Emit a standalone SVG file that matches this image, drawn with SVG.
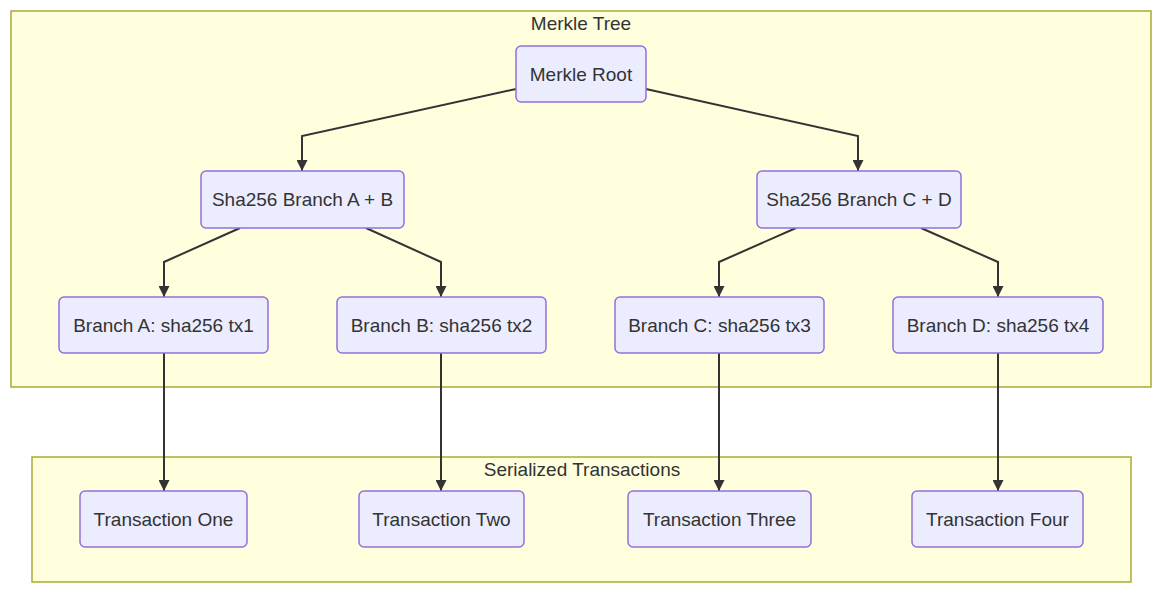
<svg xmlns="http://www.w3.org/2000/svg" width="1161" height="590" viewBox="0 0 1161 590">
<style>
.bg{fill:#ffffff}
.cluster{fill:#ffffde;stroke:#aaaa33;stroke-width:1.5}
.ctitle{font-family:"Liberation Sans",Arial,sans-serif;font-size:19px;fill:#333333;text-anchor:middle}
.node rect{fill:#ececff;stroke:#9370db;stroke-width:1.5}
.node text{font-family:"Liberation Sans",Arial,sans-serif;font-size:19px;fill:#333333;text-anchor:middle;dominant-baseline:central}
.edge{fill:none;stroke:#333333;stroke-width:2}
</style>
<defs>
<marker id="arrow" viewBox="0 0 10 10" refX="10" refY="5" markerWidth="11" markerHeight="11" markerUnits="userSpaceOnUse" orient="auto">
<path d="M0,0 L10,5 L0,10 z" fill="#333333"/>
</marker>
</defs>
<rect class="bg" x="0" y="0" width="1161" height="590"/>
<g id="cluster-merkle">
<rect class="cluster" x="11" y="11" width="1140" height="376"/>
<text class="ctitle" x="581" y="30">Merkle Tree</text>
</g>
<g id="cluster-serialized">
<rect class="cluster" x="32" y="457" width="1099" height="125"/>
<text class="ctitle" x="582" y="476">Serialized Transactions</text>
</g>
<g id="edges">
<path class="edge" d="M516,89 L302,136 L302,171" marker-end="url(#arrow)"/>
<path class="edge" d="M646,89 L858,136 L858,171" marker-end="url(#arrow)"/>
<path class="edge" d="M240,228 L164,262 L164,297" marker-end="url(#arrow)"/>
<path class="edge" d="M366,228 L441,262 L441,297" marker-end="url(#arrow)"/>
<path class="edge" d="M796,228 L719,262 L719,297" marker-end="url(#arrow)"/>
<path class="edge" d="M921,228 L998,262 L998,297" marker-end="url(#arrow)"/>
<path class="edge" d="M164,353 L164,491" marker-end="url(#arrow)"/>
<path class="edge" d="M441,353 L441,491" marker-end="url(#arrow)"/>
<path class="edge" d="M719,353 L719,491" marker-end="url(#arrow)"/>
<path class="edge" d="M998,353 L998,491" marker-end="url(#arrow)"/>
</g>
<g id="node-root" class="node"><rect x="516" y="46" width="130" height="56" rx="5"/><text x="581" y="74">Merkle Root</text></g>
<g id="node-ab" class="node"><rect x="201" y="171" width="203" height="57" rx="5"/><text x="302.5" y="199.5">Sha256 Branch A + B</text></g>
<g id="node-cd" class="node"><rect x="757" y="171" width="204" height="57" rx="5"/><text x="859" y="199.5">Sha256 Branch C + D</text></g>
<g id="node-a" class="node"><rect x="59" y="297" width="209" height="56" rx="5"/><text x="163.5" y="325">Branch A: sha256 tx1</text></g>
<g id="node-b" class="node"><rect x="337" y="297" width="209" height="56" rx="5"/><text x="441.5" y="325">Branch B: sha256 tx2</text></g>
<g id="node-c" class="node"><rect x="615" y="297" width="209" height="56" rx="5"/><text x="719.5" y="325">Branch C: sha256 tx3</text></g>
<g id="node-d" class="node"><rect x="893" y="297" width="210" height="56" rx="5"/><text x="998" y="325">Branch D: sha256 tx4</text></g>
<g id="node-tx1" class="node"><rect x="80" y="491" width="167" height="56" rx="5"/><text x="163.5" y="519">Transaction One</text></g>
<g id="node-tx2" class="node"><rect x="359" y="491" width="165" height="56" rx="5"/><text x="441.5" y="519">Transaction Two</text></g>
<g id="node-tx3" class="node"><rect x="628" y="491" width="183" height="56" rx="5"/><text x="719.5" y="519">Transaction Three</text></g>
<g id="node-tx4" class="node"><rect x="912" y="491" width="171" height="56" rx="5"/><text x="997.5" y="519">Transaction Four</text></g>
</svg>
